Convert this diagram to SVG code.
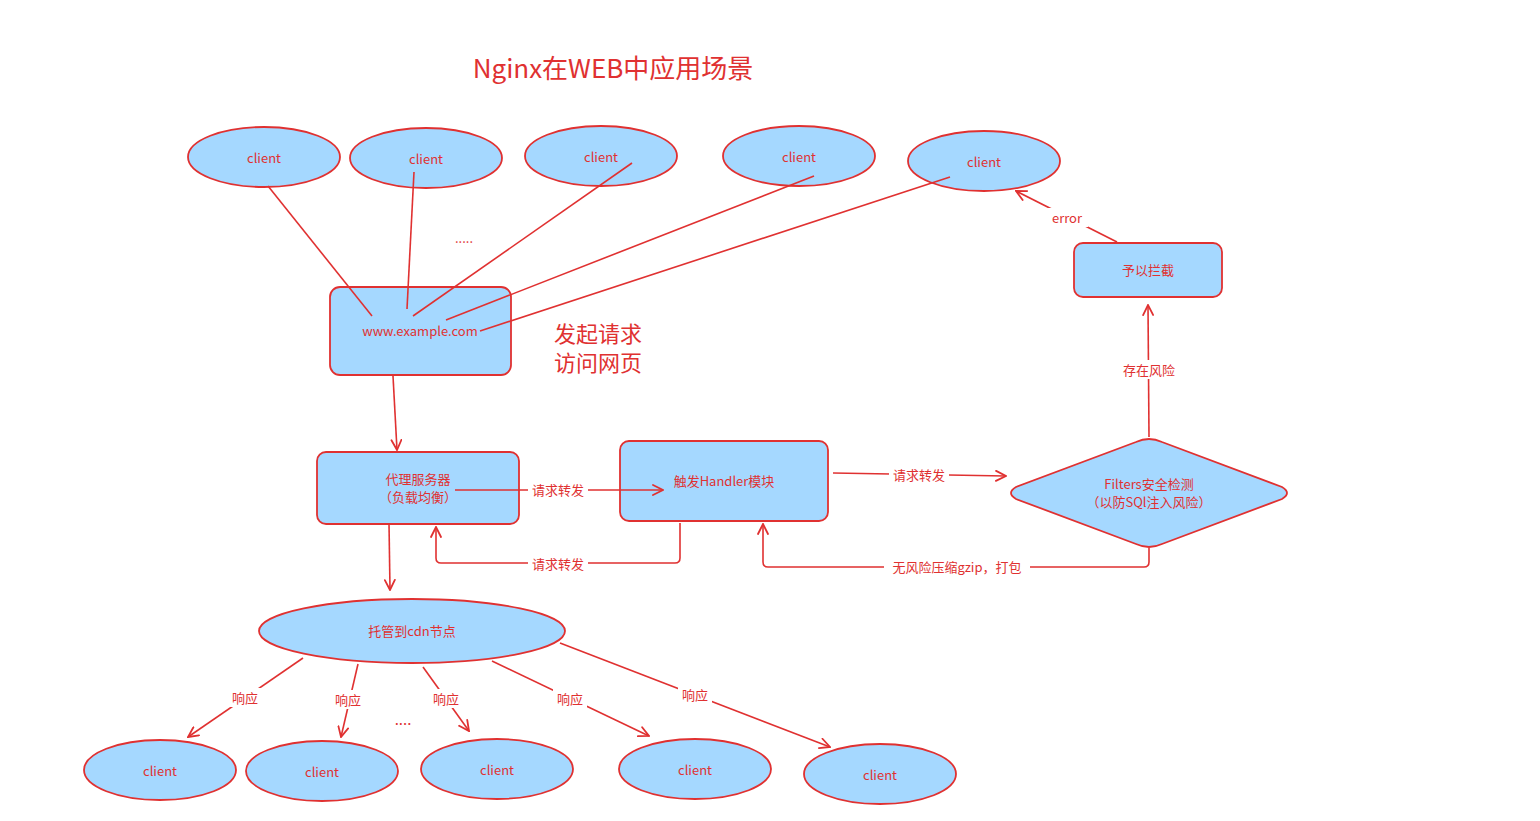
<svg xmlns="http://www.w3.org/2000/svg" width="1540" height="821" viewBox="0 0 1540 821">
<defs>
<marker id="ah" viewBox="0 0 12 12" refX="11" refY="6" markerWidth="12" markerHeight="12" markerUnits="userSpaceOnUse" orient="auto">
<path d="M1,1 L11,6 L1,11" fill="none" stroke="#e03131" stroke-width="1.8" stroke-linecap="round"/>
</marker>
<style>
.n{fill:#a5d8ff;stroke:#e03131;stroke-width:1.8}
.t{font-family:"Noto Sans CJK SC","Liberation Sans",sans-serif;fill:#e03131;font-size:13px;text-anchor:middle;dominant-baseline:central}
.c{stroke:#e03131;stroke-width:1.6;fill:none}
.a{marker-end:url(#ah)}
.bg{fill:#ffffff}
</style>
</defs>
<rect width="1540" height="821" fill="#ffffff"/>
<text class="t" x="613" y="66" style="font-size:26px">Nginx在WEB中应用场景</text>

<g id="client-t1"><ellipse class="n" cx="264" cy="157" rx="76" ry="30"/><text class="t" x="264" y="157">client</text></g>
<g id="client-t2"><ellipse class="n" cx="426" cy="158" rx="76" ry="30"/><text class="t" x="426" y="158">client</text></g>
<g id="client-t3"><ellipse class="n" cx="601" cy="156" rx="76" ry="30"/><text class="t" x="601" y="156">client</text></g>
<g id="client-t4"><ellipse class="n" cx="799" cy="156" rx="76" ry="30"/><text class="t" x="799" y="156">client</text></g>
<g id="client-t5"><ellipse class="n" cx="984" cy="161" rx="76" ry="30"/><text class="t" x="984" y="161">client</text></g>
<text class="t" x="464" y="237">.....</text>

<g id="www"><rect class="n" x="330" y="287" width="181" height="88" rx="10"/><text class="t" x="420" y="330">www.example.com</text></g>
<text class="t" x="598" y="332" style="font-size:22px">发起请求</text>
<text class="t" x="598" y="361" style="font-size:22px">访问网页</text>

<g id="proxy"><rect class="n" x="317" y="452" width="202" height="72" rx="9"/><text class="t" x="418" y="478">代理服务器</text><text class="t" x="418" y="496">（负载均衡）</text></g>
<g id="handler"><rect class="n" x="620" y="441" width="208" height="80" rx="9"/><text class="t" x="724" y="480">触发Handler模块</text></g>
<g id="filters"><path class="n" d="M1136,442 Q1149,436 1162,442 L1282,487 Q1292,493 1282,499 L1162,544 Q1149,550 1136,544 L1016,499 Q1006,493 1016,487 Z"/><text class="t" x="1149" y="483">Filters安全检测</text><text class="t" x="1149" y="501">（以防SQl注入风险）</text></g>
<g id="block"><rect class="n" x="1074" y="243" width="148" height="54" rx="9"/><text class="t" x="1148" y="269">予以拦截</text></g>
<g id="cdn"><ellipse class="n" cx="412" cy="631" rx="153" ry="32"/><text class="t" x="412" y="630">托管到cdn节点</text></g>

<g id="client-b1"><ellipse class="n" cx="160" cy="770" rx="76" ry="30"/><text class="t" x="160" y="770">client</text></g>
<g id="client-b2"><ellipse class="n" cx="322" cy="771" rx="76" ry="30"/><text class="t" x="322" y="771">client</text></g>
<g id="client-b3"><ellipse class="n" cx="497" cy="769" rx="76" ry="30"/><text class="t" x="497" y="769">client</text></g>
<g id="client-b4"><ellipse class="n" cx="695" cy="769" rx="76" ry="30"/><text class="t" x="695" y="769">client</text></g>
<g id="client-b5"><ellipse class="n" cx="880" cy="774" rx="76" ry="30"/><text class="t" x="880" y="774">client</text></g>
<text class="t" x="403" y="718" style="font-size:15px">....</text>

<g id="connectors">
<line class="c" x1="268" y1="186" x2="372" y2="316"/>
<line class="c" x1="414" y1="172" x2="407" y2="309"/>
<line class="c" x1="632" y1="163" x2="413" y2="316"/>
<line class="c" x1="814" y1="176" x2="446" y2="320"/>
<line class="c" x1="950" y1="177" x2="480" y2="331"/>
<line class="c a" x1="393" y1="376" x2="397" y2="450"/>
<line class="c a" x1="455" y1="490" x2="663" y2="490"/>
<line class="c a" x1="833" y1="473" x2="1006" y2="476"/>
<line class="c a" x1="1149" y1="437" x2="1148" y2="305"/>
<line class="c a" x1="1117" y1="242" x2="1016" y2="191"/>
<path class="c a" d="M1149,548 L1149,562 Q1149,567 1144,567 L768,567 Q763,567 763,562 L763,524"/>
<path class="c a" d="M680,523 L680,558 Q680,563 675,563 L441,563 Q436,563 436,558 L436,527"/>
<line class="c a" x1="389" y1="523" x2="390" y2="590"/>
<line class="c a" x1="303" y1="658" x2="188" y2="737"/>
<line class="c a" x1="358" y1="664" x2="341" y2="737"/>
<line class="c a" x1="423" y1="667" x2="469" y2="731"/>
<line class="c a" x1="492" y1="661" x2="649" y2="736"/>
<line class="c a" x1="560" y1="643" x2="830" y2="747"/>
<rect class="bg" x="528" y="480" width="60" height="19"/>
<text class="t" x="558" y="489">请求转发</text>
<rect class="bg" x="889" y="465" width="60" height="19"/>
<text class="t" x="919" y="474">请求转发</text>
<rect class="bg" x="1119" y="360" width="60" height="19"/>
<text class="t" x="1149" y="369">存在风险</text>
<rect class="bg" x="1046" y="208" width="42" height="19"/>
<text class="t" x="1067" y="217">error</text>
<rect class="bg" x="884" y="557" width="146" height="19"/>
<text class="t" x="957" y="566">无风险压缩gzip，打包</text>
<rect class="bg" x="528" y="554" width="60" height="19"/>
<text class="t" x="558" y="563">请求转发</text>
<rect class="bg" x="228" y="688" width="34" height="19"/>
<text class="t" x="245" y="697">响应</text>
<rect class="bg" x="331" y="690" width="34" height="19"/>
<text class="t" x="348" y="699">响应</text>
<rect class="bg" x="429" y="689" width="34" height="19"/>
<text class="t" x="446" y="698">响应</text>
<rect class="bg" x="553" y="689" width="34" height="19"/>
<text class="t" x="570" y="698">响应</text>
<rect class="bg" x="678" y="685" width="34" height="19"/>
<text class="t" x="695" y="694">响应</text>
</g>
</svg>
